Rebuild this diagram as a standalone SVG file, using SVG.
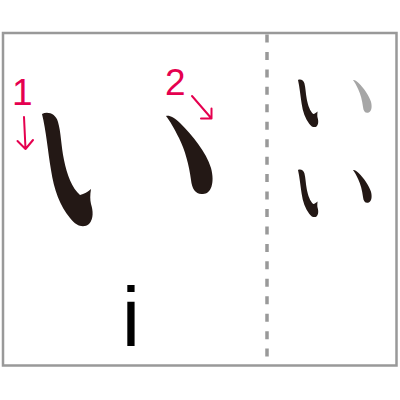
<svg xmlns="http://www.w3.org/2000/svg" xmlns:xlink="http://www.w3.org/1999/xlink" width="400" height="400" viewBox="0 0 400 400">
<style>
.frame{fill:#fff;stroke:#999;stroke-width:2.5}
.dash{stroke:#999;stroke-width:3.5;stroke-dasharray:8 9.45}
.ink{fill:#231815}
.gray{fill:#a6a6a6}
.num{font-family:"Liberation Sans",Arial,sans-serif;font-size:37px;fill:#e5004f}
.arr{fill:none;stroke:#e5004f;stroke-width:2;stroke-linecap:round;stroke-linejoin:round}
.lat{font-family:"Liberation Sans",Arial,sans-serif;font-size:83px;fill:#000}
</style>
<defs>
<path id="s1" d="M 42,114 C 48,111 56,114 58,122 C 61,132 61,145 64,160 C 67,175 72,188 80,195 C 84,194 88,192 91,189 C 90,195 90,200 91,204 C 93,210 94,219 89,224 C 84,228 77,227 70,218 C 60,206 54,190 51,170 C 48,152 46,130 42,114 Z"/>
<path id="s2" d="M 166,116 C 169,115 174,117 180,123 C 193,136 206,152 211,168 C 215,183 211,194 203,194 C 196,195 192,189 191,180 C 189,165 185,150 179,138 C 174,128 170,121 166,116 Z"/>
</defs>
<rect class="frame" x="3" y="33" width="393.5" height="332.5"/>
<line class="dash" x1="267" y1="34.5" x2="267" y2="364"/>
<g id="stroke1">
<use href="#s1" class="ink"/>
<text class="num" x="12" y="105">1</text>
<path class="arr" d="M24,117 L25.5,149 M17.5,141 L25.5,149 L33,140"/>
</g>
<g id="stroke2">
<use href="#s2" class="ink"/>
<text class="num" x="165" y="95">2</text>
<path class="arr" d="M192,96 L211.5,118.5 M201,118.5 L211.5,118.5 L211.5,108.5"/>
</g>
<g id="step1">
<use href="#s1" class="ink" transform="translate(281.2,32.1) scale(0.4,0.42)"/>
<use href="#s2" class="gray" transform="translate(286.6,31.3) scale(0.4,0.42)"/>
</g>
<g id="step2">
<use href="#s1" class="ink" transform="translate(281.2,122.1) scale(0.4,0.42)"/>
<use href="#s2" class="ink" transform="translate(286.6,121.3) scale(0.4,0.42)"/>
</g>
<text class="lat" x="131" y="346" text-anchor="middle">i</text>
</svg>
